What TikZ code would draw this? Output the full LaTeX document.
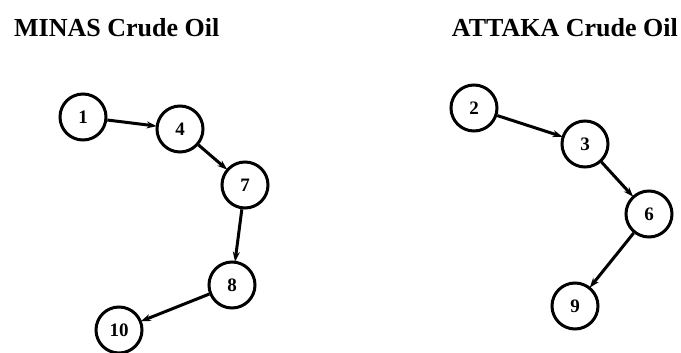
\documentclass[tikz,border=0pt]{standalone}
\usepackage{fontspec}
\setmainfont{Liberation Serif}
\usetikzlibrary{arrows.meta}
\begin{document}
\begin{tikzpicture}[x=1pt,y=-1pt,
  unit/.style={draw,circle,line width=3pt,minimum size=46pt,inner sep=0pt,
    font=\fontsize{19}{19}\selectfont\bfseries},
  link/.style={line width=3pt,-{Stealth[length=10pt,width=7pt]},shorten >=-1pt},
  heading/.style={anchor=base west,inner sep=0pt,font=\fontsize{26}{26}\selectfont\bfseries}]
\useasboundingbox (0,0) rectangle (681,353);
% titles
\node[heading] (tminas) at (14,37) {MINAS Crude Oil};
\node[heading,anchor=base east] (tattaka) at (678,37) {ATTAKA Crude Oil};
% MINAS chain
\node[unit] (n1) at (83,117) {1};
\node[unit] (n4) at (180,129) {4};
\node[unit] (n7) at (245,185) {7};
\node[unit] (n8) at (232,285) {8};
\node[unit] (n10) at (119,330) {10};
% ATTAKA chain
\node[unit] (n2) at (474,108) {2};
\node[unit] (n3) at (585,144) {3};
\node[unit] (n6) at (649,214) {6};
\node[unit] (n9) at (575,306) {9};
% connectors
\draw[link] (n1) -- (n4);
\draw[link] (n4) -- (n7);
\draw[link] (n7) -- (n8);
\draw[link] (n8) -- (n10);
\draw[link] (n2) -- (n3);
\draw[link] (n3) -- (n6);
\draw[link] (n6) -- (n9);
\end{tikzpicture}
\end{document}
